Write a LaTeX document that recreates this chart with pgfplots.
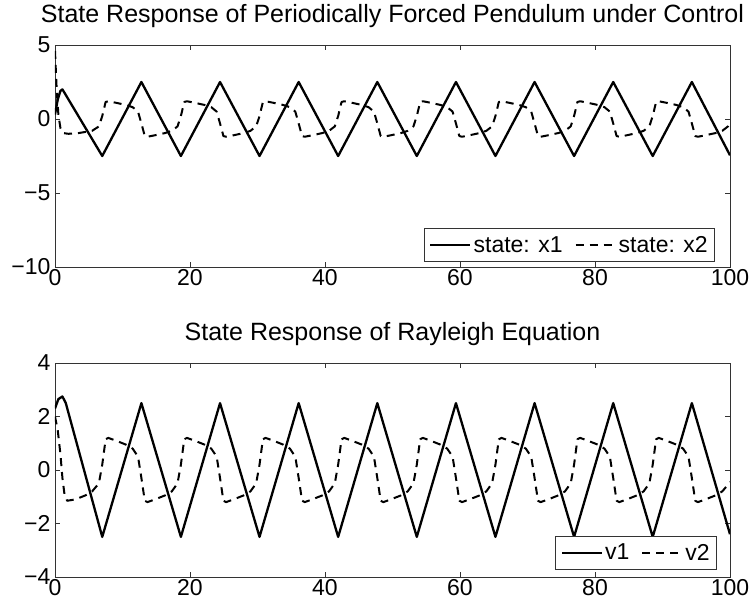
\documentclass[border=0pt]{standalone}
\usepackage{fontspec}
\setmainfont{Liberation Sans}
\usepackage{pgfplots}
\pgfplotsset{compat=1.18}
\pgfplotsset{
  mystyle/.style={
    scale only axis, width=675pt,
    xmin=0, xmax=100,
    xtick={0,20,40,60,80,100},
    xticklabels={0,20,40,60,80,100},
    axis line style={black!80, line width=0.9pt},
    major tick style={black!80, line width=0.8pt},
    major tick length=5pt,
    tick align=inside,
    ticklabel style={font=\fontsize{23}{27}\selectfont},
    xticklabel style={yshift=1pt},
    yticklabel style={xshift=-1pt},
    title style={font=\fontsize{25}{30}\selectfont, at={(0.5,1)}, anchor=base, yshift=17pt},
    legend cell align=left,
    legend columns=2,
    legend style={font=\fontsize{23}{27}\selectfont, draw=black!80, line width=0.8pt, fill=white,
      inner xsep=5pt, inner ysep=6pt,
      /tikz/every even column/.append style={column sep=10pt}},
    legend image code/.code={\draw[#1] (0pt,0pt) -- (40pt,0pt);},
  },
  sol/.style={black, line width=2.3pt, line join=round},
  das/.style={black, line width=2pt, dash pattern=on 8pt off 6pt, line join=round},
}
\begin{document}
\begin{tikzpicture}
\useasboundingbox (-55pt,-561pt) rectangle (698pt,45pt);
\begin{axis}[mystyle, at={(0pt,0pt)}, anchor=north west, height=222pt,
  ymin=-10, ymax=5, ytick={-10,-5,0,5}, yticklabels={−10,−5,0,5},
  title={State Response of Periodically Forced Pendulum under Control},
  legend style={at={(0.978,0.022)}, anchor=south east}]
\addplot[sol] coordinates {(0,0.3)(0.4,1.3)(0.8,1.9)(1.1,2.0)(1.5,1.7)(7.0,-2.5)(12.8,2.5)(18.65,-2.5)(24.45,2.5)(30.3,-2.5)(36.1,2.5)(41.95,-2.5)(47.75,2.5)(53.6,-2.5)(59.4,2.5)(65.25,-2.5)(71.05,2.5)(76.9,-2.5)(82.7,2.5)(88.55,-2.5)(94.35,2.5)(100,-2.45)};
\addlegendentry{state: x1}
\addplot[das] coordinates {(0,4.6)(0.25,2.0)(0.5,0.3)(0.8,-0.6)(1.2,-0.95)(2.0,-1.0)(3.5,-0.95)(5.5,-0.8)
(6.5,-0.5)(7.0,0.2)(7.5,1.15)(7.9,1.2)(9.0,1.1)(10.5,0.95)(11.5,0.8)(12.3,0.5)(12.8,-0.3)(13.3,-1.15)(13.7,-1.2)(14.8,-1.1)(16.3,-0.95)(17.3,-0.8)
(18.15,-0.5)(18.65,0.2)(19.15,1.15)(19.55,1.2)(20.65,1.1)(22.15,0.95)(23.15,0.8)(23.95,0.5)(24.45,-0.3)(24.95,-1.15)(25.35,-1.2)(26.45,-1.1)(27.95,-0.95)(28.95,-0.8)
(29.8,-0.5)(30.3,0.2)(30.8,1.15)(31.2,1.2)(32.3,1.1)(33.8,0.95)(34.8,0.8)(35.6,0.5)(36.1,-0.3)(36.6,-1.15)(37.0,-1.2)(38.1,-1.1)(39.6,-0.95)(40.6,-0.8)
(41.45,-0.5)(41.95,0.2)(42.45,1.15)(42.85,1.2)(43.95,1.1)(45.45,0.95)(46.45,0.8)(47.25,0.5)(47.75,-0.3)(48.25,-1.15)(48.65,-1.2)(49.75,-1.1)(51.25,-0.95)(52.25,-0.8)
(53.1,-0.5)(53.6,0.2)(54.1,1.15)(54.5,1.2)(55.6,1.1)(57.1,0.95)(58.1,0.8)(58.9,0.5)(59.4,-0.3)(59.9,-1.15)(60.3,-1.2)(61.4,-1.1)(62.9,-0.95)(63.9,-0.8)
(64.75,-0.5)(65.25,0.2)(65.75,1.15)(66.15,1.2)(67.25,1.1)(68.75,0.95)(69.75,0.8)(70.55,0.5)(71.05,-0.3)(71.55,-1.15)(71.95,-1.2)(73.05,-1.1)(74.55,-0.95)(75.55,-0.8)
(76.4,-0.5)(76.9,0.2)(77.4,1.15)(77.8,1.2)(78.9,1.1)(80.4,0.95)(81.4,0.8)(82.2,0.5)(82.7,-0.3)(83.2,-1.15)(83.6,-1.2)(84.7,-1.1)(86.2,-0.95)(87.2,-0.8)
(88.05,-0.5)(88.55,0.2)(89.05,1.15)(89.45,1.2)(90.55,1.1)(92.05,0.95)(93.05,0.8)(93.85,0.5)(94.35,-0.3)(94.85,-1.15)(95.25,-1.2)(96.35,-1.1)(97.85,-0.95)(98.85,-0.8)
(99.7,-0.5)(100,-0.1)};
\addlegendentry{state: x2}
\end{axis}
\begin{axis}[mystyle, at={(0pt,-318pt)}, anchor=north west, height=214pt,
  ymin=-4, ymax=4, ytick={-4,-2,0,2,4}, yticklabels={−4,−2,0,2,4},
  title={State Response of Rayleigh Equation},
  legend style={at={(0.981,0.033)}, anchor=south east}]
\addplot[sol] coordinates {(0,2.3)(0.5,2.65)(1.1,2.75)(1.6,2.5)(7.0,-2.5)(12.8,2.5)(18.65,-2.5)(24.45,2.5)(30.3,-2.5)(36.1,2.5)(41.95,-2.5)(47.75,2.5)(53.6,-2.5)(59.4,2.5)(65.25,-2.5)(71.05,2.5)(76.9,-2.5)(82.7,2.5)(88.55,-2.5)(94.35,2.5)(100,-2.4)};
\addlegendentry{v1}
\addplot[das] coordinates {(0,2.0)(0.4,1.5)(0.8,0.6)(1.1,-0.3)(1.4,-0.9)(1.8,-1.15)(3.0,-1.1)(4.5,-0.95)(5.5,-0.8)
(6.5,-0.5)(7.0,0.2)(7.5,1.15)(7.9,1.2)(9.0,1.1)(10.5,0.95)(11.5,0.8)(12.3,0.5)(12.8,-0.3)(13.3,-1.15)(13.7,-1.2)(14.8,-1.1)(16.3,-0.95)(17.3,-0.8)
(18.15,-0.5)(18.65,0.2)(19.15,1.15)(19.55,1.2)(20.65,1.1)(22.15,0.95)(23.15,0.8)(23.95,0.5)(24.45,-0.3)(24.95,-1.15)(25.35,-1.2)(26.45,-1.1)(27.95,-0.95)(28.95,-0.8)
(29.8,-0.5)(30.3,0.2)(30.8,1.15)(31.2,1.2)(32.3,1.1)(33.8,0.95)(34.8,0.8)(35.6,0.5)(36.1,-0.3)(36.6,-1.15)(37.0,-1.2)(38.1,-1.1)(39.6,-0.95)(40.6,-0.8)
(41.45,-0.5)(41.95,0.2)(42.45,1.15)(42.85,1.2)(43.95,1.1)(45.45,0.95)(46.45,0.8)(47.25,0.5)(47.75,-0.3)(48.25,-1.15)(48.65,-1.2)(49.75,-1.1)(51.25,-0.95)(52.25,-0.8)
(53.1,-0.5)(53.6,0.2)(54.1,1.15)(54.5,1.2)(55.6,1.1)(57.1,0.95)(58.1,0.8)(58.9,0.5)(59.4,-0.3)(59.9,-1.15)(60.3,-1.2)(61.4,-1.1)(62.9,-0.95)(63.9,-0.8)
(64.75,-0.5)(65.25,0.2)(65.75,1.15)(66.15,1.2)(67.25,1.1)(68.75,0.95)(69.75,0.8)(70.55,0.5)(71.05,-0.3)(71.55,-1.15)(71.95,-1.2)(73.05,-1.1)(74.55,-0.95)(75.55,-0.8)
(76.4,-0.5)(76.9,0.2)(77.4,1.15)(77.8,1.2)(78.9,1.1)(80.4,0.95)(81.4,0.8)(82.2,0.5)(82.7,-0.3)(83.2,-1.15)(83.6,-1.2)(84.7,-1.1)(86.2,-0.95)(87.2,-0.8)
(88.05,-0.5)(88.55,0.2)(89.05,1.15)(89.45,1.2)(90.55,1.1)(92.05,0.95)(93.05,0.8)(93.85,0.5)(94.35,-0.3)(94.85,-1.15)(95.25,-1.2)(96.35,-1.1)(97.85,-0.95)(98.85,-0.8)
(99.7,-0.55)(100,-0.45)};
\addlegendentry{v2}
\end{axis}
\end{tikzpicture}
\end{document}
